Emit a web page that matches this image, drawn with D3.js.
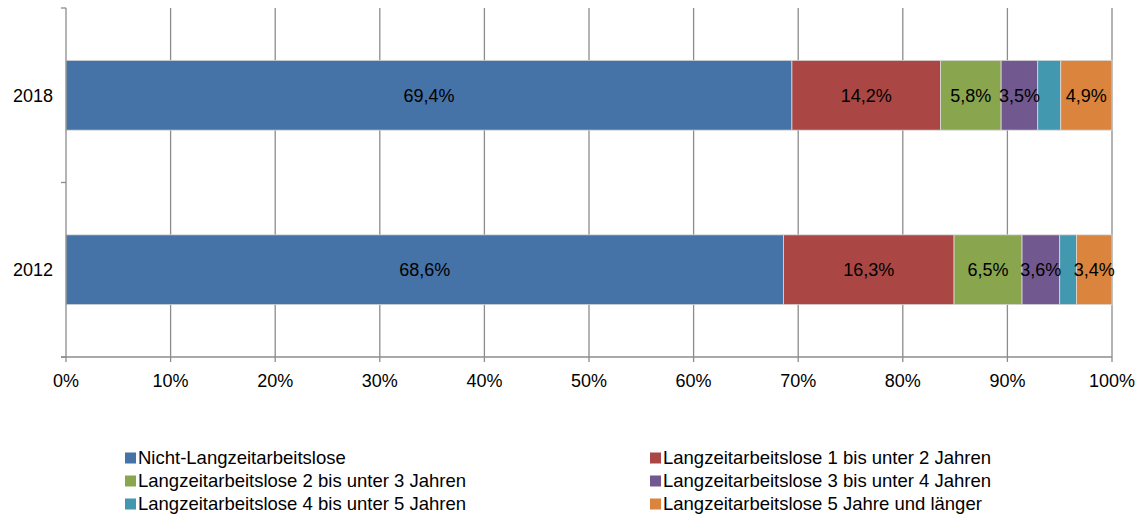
<!DOCTYPE html>
<html>
<head>
<meta charset="utf-8">
<script src="https://cdn.jsdelivr.net/npm/d3@7"></script>
<style>
  body { margin: 0; background: #fff; }
  text { font-family: "Liberation Sans", Arial, sans-serif; }
</style>
</head>
<body>
<div class="chart"></div>
<script>
// Data.
const years = ['2018', '2012'];
const categories = [
    'Nicht-Langzeitarbeitslose',
    'Langzeitarbeitslose 1 bis unter 2 Jahren',
    'Langzeitarbeitslose 2 bis unter 3 Jahren',
    'Langzeitarbeitslose 3 bis unter 4 Jahren',
    'Langzeitarbeitslose 4 bis unter 5 Jahren',
    'Langzeitarbeitslose 5 Jahre und länger'
];
const values2018 = [69.4, 14.2, 5.8, 3.5, 2.2, 4.9];
const values2012 = [68.6, 16.3, 6.5, 3.6, 1.6, 3.4];
const showLabel = [true, true, true, true, false, true];
const colors = ['#4572A7', '#AA4643', '#89A54E', '#71588F', '#4198AF', '#DB843D'];
const xTicks = [0, 10, 20, 30, 40, 50, 60, 70, 80, 90, 100];

const width = 1142, height = 520;
const margin = {top: 8, left: 66, right: 30};
const plotBottom = 357;
const fontSize = 18;

const svg = d3.select('.chart')
    .append('svg')
    .attr('width', width)
    .attr('height', height);

const x = d3.scaleLinear().domain([0, 100]).range([margin.left, width - margin.right]);
const y = d3.scaleBand().domain(years).range([margin.top, plotBottom]).paddingInner(0.6).paddingOuter(0.3);

const fmt = v => d3.format('.1f')(v).replace('.', ',') + '%';

// Gridlines.
svg.append('g')
    .selectAll('line')
    .data(xTicks.slice(1))
    .join('line')
        .attr('x1', d => x(d)).attr('x2', d => x(d))
        .attr('y1', margin.top).attr('y2', plotBottom)
        .attr('stroke', '#8c8c8c')
        .attr('stroke-width', 1.3);

// Bars.
const rows = [values2018, values2012];
rows.forEach((vals, i) => {
    let acc = 0;
    const segs = vals.map((v, j) => {
        const s = {start: acc, value: v, j: j};
        acc += v;
        return s;
    });
    const g = svg.append('g');
    g.selectAll('rect')
        .data(segs)
        .join('rect')
            .attr('x', d => x(d.start))
            .attr('y', y(years[i]))
            .attr('width', d => x(d.start + d.value) - x(d.start))
            .attr('height', y.bandwidth())
            .attr('fill', d => colors[d.j])
            .attr('stroke', '#d9d9d9')
            .attr('stroke-width', 0.8);
    g.selectAll('text')
        .data(segs.filter(d => showLabel[d.j]))
        .join('text')
            .attr('x', d => x(d.start + d.value / 2))
            .attr('y', y(years[i]) + y.bandwidth() / 2)
            .attr('dy', '0.35em')
            .attr('text-anchor', 'middle')
            .attr('font-size', fontSize)
            .attr('fill', '#000')
            .text(d => fmt(d.value));
});

// Y axis.
const yAxis = svg.append('g');
yAxis.append('line')
    .attr('x1', margin.left).attr('x2', margin.left)
    .attr('y1', margin.top).attr('y2', plotBottom)
    .attr('stroke', '#8c8c8c').attr('stroke-width', 1.3);
const yTickPos = [margin.top, (margin.top + plotBottom) / 2, plotBottom];
yAxis.selectAll('.yt')
    .data(yTickPos)
    .join('line')
        .attr('x1', margin.left - 5).attr('x2', margin.left)
        .attr('y1', d => d).attr('y2', d => d)
        .attr('stroke', '#8c8c8c').attr('stroke-width', 1.3);
yAxis.selectAll('text')
    .data(years)
    .join('text')
        .attr('x', margin.left - 13)
        .attr('y', d => y(d) + y.bandwidth() / 2)
        .attr('dy', '0.35em')
        .attr('text-anchor', 'end')
        .attr('font-size', fontSize)
        .attr('fill', '#000')
        .text(d => d);

// X axis.
const xAxis = svg.append('g');
xAxis.append('line')
    .attr('x1', margin.left - 5).attr('x2', x(100))
    .attr('y1', plotBottom).attr('y2', plotBottom)
    .attr('stroke', '#8c8c8c').attr('stroke-width', 1.3);
xAxis.selectAll('.xt')
    .data(xTicks)
    .join('line')
        .attr('x1', d => x(d)).attr('x2', d => x(d))
        .attr('y1', plotBottom).attr('y2', plotBottom + 5)
        .attr('stroke', '#8c8c8c').attr('stroke-width', 1.3);
xAxis.selectAll('text')
    .data(xTicks)
    .join('text')
        .attr('x', d => x(d))
        .attr('y', 381)
        .attr('dy', '0.35em')
        .attr('text-anchor', 'middle')
        .attr('font-size', fontSize)
        .attr('fill', '#000')
        .text(d => d + '%');

// Legend.
const legendCols = [125, 650];
const legendRows = [458, 481, 504];
const legend = svg.append('g')
    .selectAll('g')
    .data(categories)
    .join('g')
        .attr('transform', (d, i) => `translate(${legendCols[i % 2]}, ${legendRows[Math.floor(i / 2)]})`);
legend.append('rect')
    .attr('x', 0).attr('y', -5.5)
    .attr('width', 11).attr('height', 11)
    .attr('fill', (d, i) => colors[i]);
legend.append('text')
    .attr('x', 13)
    .attr('dy', '0.35em')
    .attr('font-size', 18.5)
    .attr('fill', '#000')
    .text(d => d);
</script>
</body>
</html>
